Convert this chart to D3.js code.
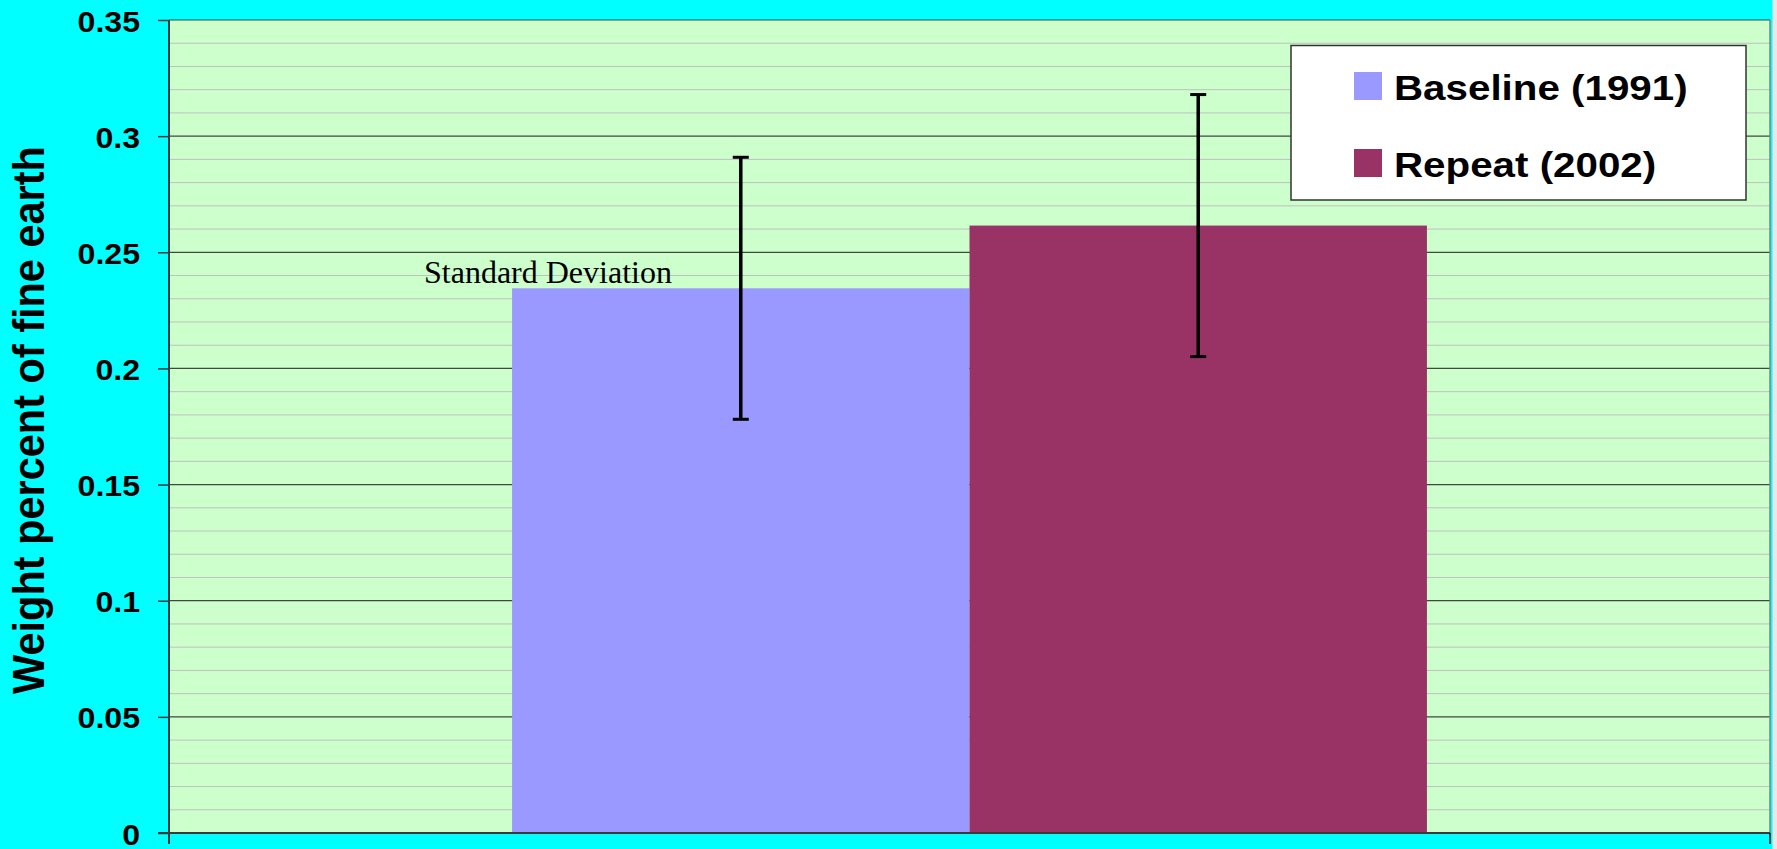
<!DOCTYPE html>
<html>
<head>
<meta charset="utf-8">
<script src="https://cdn.jsdelivr.net/npm/d3@7"></script>
<style>
  html, body { margin: 0; padding: 0; background: #00FFFF; }
  svg { display: block; }
</style>
</head>
<body>
<svg id="chart" width="1777" height="849"></svg>
<script>
// Fine-earth weight percent, baseline vs. repeat survey
const categories = ["Fine earth"];
const seriesNames = ["Baseline (1991)", "Repeat (2002)"];
const seriesMeans = [0.2345, 0.2615];
const seriesSD = [0.0564, 0.0564];
const seriesColors = ["#9999FF", "#993366"];
const yTicks = [0, 0.05, 0.1, 0.15, 0.2, 0.25, 0.3, 0.35];
const yTickLabels = ["0", "0.05", "0.1", "0.15", "0.2", "0.25", "0.3", "0.35"];
const yMinorTicks = d3.range(0, 36).map(i => i / 100);
const yTitle = "Weight percent of fine earth";
const noteText = "Standard Deviation";

const W = 1777, H = 849;
const plot = { left: 169, right: 1770, top: 20, bottom: 833 };

const svg = d3.select("#chart");

// page background plus the thin grey strip at the far right
svg.append("rect").attr("x", 0).attr("y", 0).attr("width", W).attr("height", H).attr("fill", "#00FFFF");
svg.append("rect").attr("x", 1772.5).attr("y", 0).attr("width", W - 1772.5).attr("height", H).attr("fill", "#E8E8E8");

const y = d3.scaleLinear().domain([0, 0.35]).range([plot.bottom, plot.top]);
const x0 = d3.scaleBand().domain(categories).range([plot.left, plot.right])
  .paddingInner(0).paddingOuter(0.375);
const x1 = d3.scaleBand().domain(seriesNames).range([0, x0.bandwidth()]).padding(0);

// plot area
svg.append("rect")
  .attr("x", plot.left).attr("y", plot.top)
  .attr("width", plot.right - plot.left).attr("height", plot.bottom - plot.top)
  .attr("fill", "#CCFFCC");

// minor gridlines every 0.01
svg.append("g").selectAll("line")
  .data(yMinorTicks.filter(v => Math.round(v * 100) % 5 !== 0))
  .join("line")
  .attr("x1", plot.left).attr("x2", plot.right)
  .attr("y1", d => y(d)).attr("y2", d => y(d))
  .attr("stroke", "#C0C0C0").attr("stroke-width", 1);

// major gridlines every 0.05
svg.append("g").selectAll("line")
  .data(yTicks.filter(v => v > 0))
  .join("line")
  .attr("x1", plot.left).attr("x2", plot.right)
  .attr("y1", d => y(d)).attr("y2", d => y(d))
  .attr("stroke", "#404840").attr("stroke-width", 1.2);

// right border of plot area
svg.append("line")
  .attr("x1", plot.right).attr("x2", plot.right)
  .attr("y1", plot.top).attr("y2", plot.bottom)
  .attr("stroke", "#808080").attr("stroke-width", 1.5);

// bars
const groups = svg.append("g").selectAll("g")
  .data(categories)
  .join("g")
  .attr("transform", d => `translate(${x0(d)},0)`);

groups.selectAll("rect")
  .data(() => seriesNames.map((s, i) => ({ name: s, value: seriesMeans[i], color: seriesColors[i] })))
  .join("rect")
  .attr("x", d => x1(d.name))
  .attr("y", d => y(d.value))
  .attr("width", x1.bandwidth())
  .attr("height", d => y(0) - y(d.value))
  .attr("fill", d => d.color);

// error bars (± one standard deviation)
const capHalf = 8;
const errG = groups.selectAll("g.err")
  .data(() => seriesNames.map((s, i) => ({ name: s, mean: seriesMeans[i], sd: seriesSD[i] })))
  .join("g")
  .attr("class", "err")
  .attr("stroke", "#000")
  .attr("stroke-width", 3.5);
errG.append("line")
  .attr("x1", d => x1(d.name) + x1.bandwidth() / 2)
  .attr("x2", d => x1(d.name) + x1.bandwidth() / 2)
  .attr("y1", d => y(d.mean + d.sd))
  .attr("y2", d => y(d.mean - d.sd));
errG.selectAll("line.cap")
  .data(d => [d.mean + d.sd, d.mean - d.sd].map(v => ({ v, cx: x1(d.name) + x1.bandwidth() / 2 })))
  .join("line")
  .attr("class", "cap")
  .attr("x1", d => d.cx - capHalf).attr("x2", d => d.cx + capHalf)
  .attr("y1", d => y(d.v)).attr("y2", d => y(d.v))
  .attr("stroke-width", 3);

// y axis
const yAxis = d3.axisLeft(y).tickValues(yTicks).tickSize(11).tickFormat(() => "");
const yAxisG = svg.append("g").attr("transform", `translate(${plot.left},0)`).call(yAxis);
yAxisG.select(".domain").attr("stroke", "#3A3A3A").attr("stroke-width", 2)
  .attr("d", `M0,${plot.top}V${plot.bottom + 11}`);
yAxisG.selectAll(".tick line").attr("stroke", "#3A3A3A").attr("stroke-width", 1.5);

// bottom axis line with end ticks
svg.append("line")
  .attr("x1", plot.left - 11).attr("x2", plot.right)
  .attr("y1", plot.bottom).attr("y2", plot.bottom)
  .attr("stroke", "#3A3A3A").attr("stroke-width", 2);
svg.append("line")
  .attr("x1", plot.right).attr("x2", plot.right)
  .attr("y1", plot.bottom).attr("y2", plot.bottom + 11)
  .attr("stroke", "#000").attr("stroke-width", 1.5);

// y tick labels
svg.append("g").selectAll("text")
  .data(yTicks)
  .join("text")
  .attr("transform", d => `translate(140,${y(d) + 11.5}) scale(1.07,1)`)
  .attr("text-anchor", "end")
  .attr("font-family", "Liberation Sans, Arial, sans-serif")
  .attr("font-weight", "bold")
  .attr("font-size", 30)
  .attr("fill", "#000")
  .text((d, i) => yTickLabels[i]);

// y axis title
svg.append("text")
  .attr("transform", `translate(44,${(plot.top + plot.bottom) / 2 - 6.5}) scale(1.06,1) rotate(-90)`)
  .attr("text-anchor", "middle")
  .attr("font-family", "Liberation Sans, Arial, sans-serif")
  .attr("font-weight", "bold")
  .attr("font-size", 41.5)
  .attr("fill", "#000")
  .text(yTitle);

// annotation
svg.append("text")
  .attr("x", 424).attr("y", 283)
  .attr("font-family", "Liberation Serif, Times New Roman, serif")
  .attr("font-size", 32)
  .attr("fill", "#000")
  .text(noteText);

// legend
const legend = svg.append("g");
legend.append("rect")
  .attr("x", 1291).attr("y", 45.5).attr("width", 455).attr("height", 154.5)
  .attr("fill", "#FFFFFF").attr("stroke", "#333").attr("stroke-width", 1.5);
const items = legend.selectAll("g.item")
  .data(seriesNames.map((s, i) => ({ name: s, color: seriesColors[i] })))
  .join("g")
  .attr("class", "item")
  .attr("transform", (d, i) => `translate(1354,${72 + i * 77})`);
items.append("rect")
  .attr("width", 28).attr("height", 28)
  .attr("fill", d => d.color);
items.append("text")
  .attr("transform", "translate(40,28) scale(1.12,1)")
  .attr("font-family", "Liberation Sans, Arial, sans-serif")
  .attr("font-weight", "bold")
  .attr("font-size", 36)
  .attr("fill", "#000")
  .text(d => d.name);
</script>
</body>
</html>
